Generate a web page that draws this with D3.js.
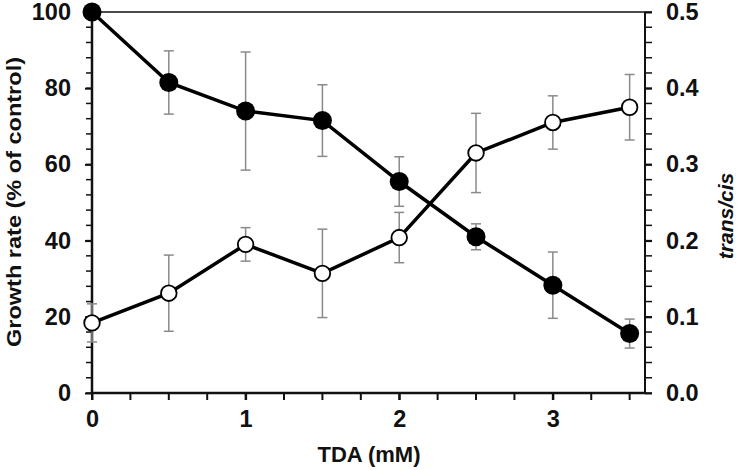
<!DOCTYPE html>
<html><head><meta charset="utf-8">
<script src="https://cdn.jsdelivr.net/npm/d3@7"></script>
<style>body{margin:0;background:#fff}svg{display:block}</style>
</head><body>
<script>
const tda = [0, 0.5, 1, 1.5, 2, 2.5, 3, 3.5];
const growth = [100, 81.5, 74, 71.5, 55.5, 41, 28.3, 15.6];
const growthErr = [0, 8.3, 15.5, 9.4, 6.5, 3.4, 8.7, 3.8];
const transCis = [0.092, 0.131, 0.195, 0.157, 0.204, 0.315, 0.355, 0.375];
const transCisErr = [0.025, 0.05, 0.022, 0.058, 0.033, 0.052, 0.035, 0.043];
const xTicks = [0, 1, 2, 3];
const yLeftTicks = [0, 20, 40, 60, 80, 100];
const yRightTicks = [0, 0.1, 0.2, 0.3, 0.4, 0.5];

const W = 739, H = 470;
const L = 92, R = 645, T = 12, B = 393;
const svg = d3.select("body").append("svg").attr("width", W).attr("height", H);
const x = d3.scaleLinear().domain([0, 3.6]).range([L, R]);
const yL = d3.scaleLinear().domain([0, 100]).range([B, T]);
const yR = d3.scaleLinear().domain([0, 0.5]).range([B, T]);
const font = "'Liberation Sans', Arial, sans-serif";

// frame top
svg.append("line").attr("x1", L).attr("x2", R).attr("y1", T).attr("y2", T)
  .attr("stroke", "#111").attr("stroke-width", 1.5);

// minor ticks
const minorX = d3.range(0, 3.51, 0.25);
svg.selectAll(".mx").data(minorX).join("line")
  .attr("x1", d => x(d)).attr("x2", d => x(d)).attr("y1", B).attr("y2", B + 7)
  .attr("stroke", "#111").attr("stroke-width", 2);
const minorYL = d3.range(0, 100.1, 4);
svg.selectAll(".myl").data(minorYL).join("line")
  .attr("x1", L - 6).attr("x2", L).attr("y1", d => yL(d)).attr("y2", d => yL(d))
  .attr("stroke", "#111").attr("stroke-width", 1.5);
const minorYR = d3.range(0, 0.501, 0.02);
svg.selectAll(".myr").data(minorYR).join("line")
  .attr("x1", R).attr("x2", R + 7).attr("y1", d => yR(d)).attr("y2", d => yR(d))
  .attr("stroke", "#111").attr("stroke-width", 1.5);

// axes
const ax = svg.append("g").attr("transform", `translate(0,${B})`)
  .call(d3.axisBottom(x).tickValues(xTicks).tickFormat(d3.format("d")).tickSize(7).tickPadding(10));
const ayl = svg.append("g").attr("transform", `translate(${L},0)`)
  .call(d3.axisLeft(yL).tickValues(yLeftTicks).tickSize(7).tickPadding(14));
const ayr = svg.append("g").attr("transform", `translate(${R},0)`)
  .call(d3.axisRight(yR).tickValues(yRightTicks).tickFormat(d3.format(".1f")).tickSize(7).tickPadding(14));
[ax, ayl, ayr].forEach(g => {
  g.select(".domain").attr("stroke", "#111").attr("stroke-width", 2.5);
  g.selectAll(".tick line").attr("stroke", "#111").attr("stroke-width", 2);
  g.selectAll(".tick text").attr("fill", "#111").style("font-family", font)
    .style("font-size", "23.5px").style("font-weight", "bold");
});
ayr.select(".domain").attr("stroke-width", 2);
ax.select(".domain").attr("d", `M${L},0H${R}`);
ayl.select(".domain").attr("d", `M0,${B}V${T}`);
ayr.select(".domain").attr("d", `M0,${B}V${T}`);

// error bars
function errBars(vals, errs, y) {
  const g = svg.append("g");
  vals.forEach((v, i) => {
    const e = errs[i];
    if (e <= 0) return;
    const cx = x(tda[i]);
    g.append("line").attr("x1", cx).attr("x2", cx).attr("y1", y(v - e)).attr("y2", y(v + e));
    g.append("line").attr("x1", cx - 5).attr("x2", cx + 5).attr("y1", y(v - e)).attr("y2", y(v - e));
    g.append("line").attr("x1", cx - 5).attr("x2", cx + 5).attr("y1", y(v + e)).attr("y2", y(v + e));
  });
  g.selectAll("line").attr("stroke", "#8a8a8a").attr("stroke-width", 1.5);
}
errBars(transCis, transCisErr, yR);
errBars(growth, growthErr, yL);

// lines
const lineL = d3.line().x((d, i) => x(tda[i])).y(d => yL(d));
const lineR = d3.line().x((d, i) => x(tda[i])).y(d => yR(d));
svg.append("path").attr("d", lineR(transCis)).attr("fill", "none").attr("stroke", "#000").attr("stroke-width", 3.5);
svg.append("path").attr("d", lineL(growth)).attr("fill", "none").attr("stroke", "#000").attr("stroke-width", 3.5);

// markers
svg.selectAll(".oc").data(transCis).join("circle")
  .attr("cx", (d, i) => x(tda[i])).attr("cy", d => yR(d)).attr("r", 7.8)
  .attr("fill", "#fff").attr("stroke", "#000").attr("stroke-width", 1.8);
svg.selectAll(".fc").data(growth).join("circle")
  .attr("cx", (d, i) => x(tda[i])).attr("cy", d => yL(d)).attr("r", 9.5)
  .attr("fill", "#000");

// titles
svg.append("text").attr("transform", `translate(21,202) rotate(-90)`)
  .attr("text-anchor", "middle").style("font-family", font).style("font-size", "21px")
  .style("font-weight", "bold").attr("fill", "#111")
  .attr("textLength", 290).attr("lengthAdjust", "spacingAndGlyphs")
  .text("Growth rate (% of control)");
svg.append("text").attr("transform", `translate(733,216) rotate(-90)`)
  .attr("text-anchor", "middle").style("font-family", font).style("font-size", "21px")
  .style("font-style", "italic").style("font-weight", "bold").attr("fill", "#111").text("trans/cis");
svg.append("text").attr("x", 369).attr("y", 462)
  .attr("text-anchor", "middle").style("font-family", font).style("font-size", "22px")
  .style("font-weight", "bold").attr("fill", "#111").text("TDA (mM)");
</script>
</body></html>
